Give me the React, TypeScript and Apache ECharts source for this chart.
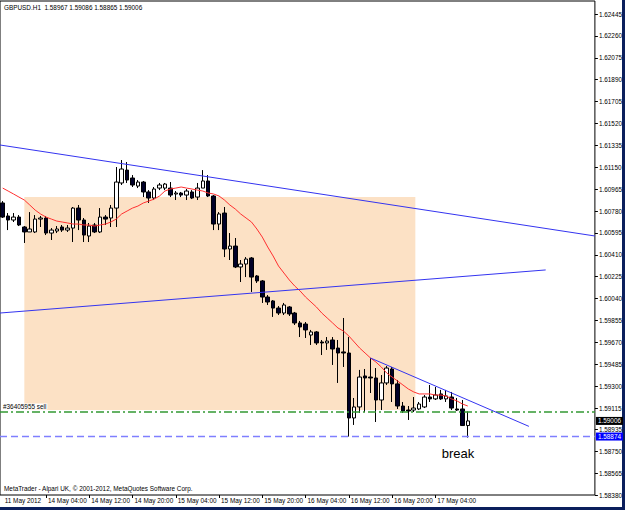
import React, { useEffect, useRef } from "react";
import * as echarts from "echarts";

const symbolName = "GBPUSD.H1";
const footerText = "MetaTrader - Alpari UK, \u00a9 2001-2012, MetaQuotes Software Corp.";

const hours = (d: string, from: number, to: number) =>
  Array.from({ length: to - from + 1 }, (_, k) => `${d} ${String(from + k).padStart(2, "0")}:00`);
const categories = [
  ...hours("11 May", 20, 23),
  ...hours("14 May", 0, 23),
  ...hours("15 May", 0, 23),
  ...hours("16 May", 0, 23),
  ...hours("17 May", 0, 23),
  ...hours("18 May", 0, 9),
];

const xTickIndex = [0, 8, 16, 24, 32, 40, 48, 56, 64, 72, 80];
const xTickLabels = [
  "11 May 2012", "14 May 04:00", "14 May 12:00", "14 May 20:00", "15 May 04:00", "15 May 12:00",
  "15 May 20:00", "16 May 04:00", "16 May 12:00", "16 May 20:00", "17 May 04:00",
];

const yTicks = [
  1.5838, 1.58565, 1.5875, 1.58935, 1.59115, 1.593, 1.59485, 1.5967, 1.59855, 1.6004, 1.60225,
  1.6041, 1.60595, 1.6078, 1.60965, 1.6115, 1.61335, 1.6152, 1.61705, 1.6189, 1.62075, 1.6226, 1.62445,
];

const open = [
  1.60848, 1.60738, 1.60704, 1.60729, 1.60645, 1.60603, 1.60603, 1.60712, 1.60721, 1.60594,
  1.60611, 1.60645, 1.60619, 1.60636, 1.60805, 1.60704, 1.60569, 1.60662, 1.60603, 1.60729,
  1.60721, 1.60805, 1.61017, 1.61126, 1.61059, 1.60991, 1.61025, 1.60941, 1.6089, 1.60974,
  1.60974, 1.60974, 1.60924, 1.60932, 1.60915, 1.60941, 1.60898, 1.60974, 1.61034, 1.60907,
  1.6067, 1.60763, 1.60459, 1.60484, 1.60307, 1.60332, 1.60383, 1.60231, 1.60189, 1.60053,
  1.6002, 1.5996, 1.59918, 1.59969, 1.59918, 1.59834, 1.59825, 1.59732, 1.59758, 1.59673,
  1.59665, 1.5969, 1.59622, 1.59589, 1.5958, 1.59031, 1.59124, 1.59386, 1.59377, 1.59369,
  1.59183, 1.59327, 1.59445, 1.59319, 1.59132, 1.59098, 1.59098, 1.59107, 1.59124, 1.59208,
  1.59192, 1.59234, 1.59192, 1.59208, 1.59107, 1.59107, 1.58967,
];
const close = [
  1.60729, 1.60704, 1.60729, 1.60662, 1.60603, 1.60628, 1.60712, 1.60721, 1.60594, 1.60619,
  1.60628, 1.60619, 1.60636, 1.60805, 1.60704, 1.60577, 1.60653, 1.60603, 1.60729, 1.60712,
  1.60805, 1.61025, 1.61135, 1.61042, 1.61, 1.61025, 1.60941, 1.6089, 1.60966, 1.61,
  1.61008, 1.60915, 1.60932, 1.60915, 1.60949, 1.6089, 1.60974, 1.61034, 1.60907, 1.6067,
  1.60755, 1.60459, 1.60484, 1.60307, 1.60332, 1.60374, 1.60222, 1.60189, 1.60053, 1.60011,
  1.5996, 1.59918, 1.59986, 1.5991, 1.59834, 1.598, 1.59775, 1.59758, 1.59665, 1.59665,
  1.59681, 1.59614, 1.5958, 1.5958, 1.59031, 1.59124, 1.59377, 1.59369, 1.59369, 1.59183,
  1.59327, 1.59453, 1.59319, 1.59132, 1.5909, 1.5909, 1.59115, 1.59149, 1.59208, 1.59192,
  1.59225, 1.59192, 1.59217, 1.59115, 1.59098, 1.58967, 1.59006,
];
const low = [
  1.60721, 1.60619, 1.60687, 1.60653, 1.6051, 1.60603, 1.60594, 1.60645, 1.60577, 1.60535,
  1.60594, 1.60603, 1.60603, 1.60518, 1.60619, 1.60518, 1.60518, 1.60594, 1.60594, 1.60662,
  1.60645, 1.60645, 1.61, 1.61017, 1.60983, 1.60974, 1.60898, 1.60848, 1.60873, 1.60957,
  1.60957, 1.60898, 1.60873, 1.60898, 1.60873, 1.60881, 1.60873, 1.60974, 1.60898, 1.60619,
  1.60619, 1.60391, 1.60366, 1.60298, 1.6018, 1.60222, 1.60096, 1.60172, 1.60003, 1.59986,
  1.59885, 1.59901, 1.59901, 1.59893, 1.59817, 1.59715, 1.59707, 1.59648, 1.59648, 1.59563,
  1.59606, 1.59479, 1.59327, 1.59462, 1.58874, 1.58972, 1.59073, 1.59081, 1.59242, 1.58997,
  1.59098, 1.5931, 1.59166, 1.59107, 1.59073, 1.59014, 1.59081, 1.59098, 1.59115, 1.59166,
  1.59183, 1.59183, 1.59166, 1.59098, 1.5909, 1.58963, 1.58865,
];
const high = [
  1.60864, 1.60763, 1.60763, 1.60746, 1.60653, 1.60771, 1.60746, 1.60738, 1.60738, 1.60636,
  1.60653, 1.60662, 1.60662, 1.60814, 1.60831, 1.60721, 1.60679, 1.60679, 1.60805, 1.60746,
  1.60831, 1.61152, 1.61211, 1.61194, 1.61084, 1.61042, 1.61034, 1.60957, 1.60983, 1.61017,
  1.61017, 1.61025, 1.60949, 1.60941, 1.60966, 1.60957, 1.61017, 1.61126, 1.61084, 1.60915,
  1.60771, 1.60814, 1.60594, 1.60552, 1.60366, 1.60391, 1.60391, 1.60239, 1.60197, 1.6007,
  1.60028, 1.59977, 1.60003, 1.59977, 1.59927, 1.59851, 1.59842, 1.59775, 1.59766, 1.5969,
  1.59715, 1.59715, 1.5969, 1.59876, 1.59715, 1.592, 1.59437, 1.59445, 1.59538, 1.59453,
  1.59394, 1.5947, 1.59462, 1.59352, 1.59166, 1.59132, 1.59208, 1.59166, 1.59225, 1.5931,
  1.59293, 1.59268, 1.59268, 1.59251, 1.592, 1.59183, 1.59086,
];
const movingAverage = [
  1.60974, 1.60949, 1.60924, 1.60898, 1.60873, 1.60831, 1.60788, 1.60755, 1.60729, 1.60712,
  1.60695, 1.60687, 1.60679, 1.6067, 1.6067, 1.60662, 1.60662, 1.60653, 1.60662, 1.6067,
  1.60687, 1.60712, 1.60755, 1.6078, 1.60805, 1.60822, 1.60848, 1.60864, 1.60881, 1.60907,
  1.60949, 1.60966, 1.60974, 1.60983, 1.60974, 1.60966, 1.60957, 1.60949, 1.60932, 1.60924,
  1.60907, 1.60873, 1.60831, 1.60797, 1.60755, 1.60721, 1.60687, 1.60628, 1.6056, 1.60476,
  1.604, 1.60315, 1.60256, 1.60197, 1.60146, 1.60104, 1.60053, 1.60011, 1.59969, 1.59918,
  1.59876, 1.59834, 1.59791, 1.59766, 1.59724, 1.59673, 1.59622, 1.5958, 1.59538, 1.59504,
  1.59462, 1.59411, 1.59377, 1.59344, 1.5931, 1.59276, 1.59251, 1.59234, 1.59234, 1.59234,
  1.59225, 1.59225, 1.59217, 1.59192, 1.59175, 1.59149, 1.59132,
];

// drawn objects: [bar position, price]
const trendUpper = [[-0.5, 1.61338], [109.5, 1.60569]];
const trendLower = [[-0.5, 1.59918], [100.4, 1.60282]];
const trendShort = [[68, 1.59538], [97.3, 1.5896]];
const zoneCorners = [[4, 1.60898], [76.3, 1.59098]];
const sellPrice = 1.59086;
const sellTicket = "#36405955 sell";
const stopPrice = 1.58874;
const breakNote = { text: "break", at: [84.2, 1.58731] };

const FONT = "'Liberation Sans', Arial, sans-serif";

export default function App() {
  const ref = useRef<HTMLDivElement>(null);
  useEffect(() => {
    document.body.style.margin = "0";
    const chart = echarts.init(ref.current!, null, { renderer: "svg" });
    const n = open.length;
    const candles = open.map((o, i) => [o, close[i], low[i], high[i]]);
    const lastBid = close[n - 1];
    const header = `${symbolName}  ${open[n - 1].toFixed(5)} ${high[n - 1].toFixed(5)} ${low[n - 1].toFixed(5)} ${close[n - 1].toFixed(5)}`;
    const small = { fontFamily: FONT, fontSize: 6.4, color: "#000" };
    const priceBox = (txt: string, bg: string) => ({
      show: true,
      position: "end",
      formatter: txt,
      fontFamily: FONT,
      fontSize: 6.4,
      color: "#fff",
      backgroundColor: bg,
      padding: [1, 2],
      distance: 1,
    });

    chart.setOption({
      animation: false,
      backgroundColor: "#ffffff",
      grid: { left: 0, right: 29, top: 1, bottom: 15, show: true, borderColor: "#000", borderWidth: 1, backgroundColor: "#fff" },
      xAxis: [
        {
          type: "category",
          data: categories,
          axisLine: { show: false, onZero: false },
          splitLine: { show: false },
          axisTick: {
            show: true,
            alignWithLabel: true,
            length: 3,
            interval: (i: number) => i > 0 && xTickIndex.includes(i),
            lineStyle: { color: "#000" },
          },
          axisLabel: {
            ...small,
            interval: (i: number) => xTickIndex.includes(i),
            formatter: (_v: string, i: number) => {
              const k = xTickIndex.indexOf(i);
              return k >= 0 ? xTickLabels[k] : "";
            },
            align: "left",
            margin: 2,
            padding: [0, 0, 0, 2],
          },
        },
        { type: "value", min: -0.5, max: 109.5, show: false, axisLine: { onZero: false } },
      ],
      yAxis: {
        type: "value",
        position: "right",
        min: 1.5838,
        max: 1.62555,
        axisLine: { show: false, onZero: false },
        splitLine: { show: false },
        axisTick: { show: true, customValues: yTicks, length: 3, inside: false, lineStyle: { color: "#000" } },
        axisLabel: {
          ...small,
          customValues: yTicks,
          formatter: (v: number) => v.toFixed(5),
          margin: 4,
        },
      },
      graphic: [
        { type: "text", left: 4, top: 4, style: { text: header, fill: "#000", font: `6.4px ${FONT}` } },
        { type: "text", left: 4, top: 485, style: { text: footerText, fill: "#000", font: `6.4px ${FONT}` } },
        { type: "rect", shape: { x: 622, y: 0, width: 3, height: 510 }, style: { fill: "#0b1f5c" } },
        { type: "rect", shape: { x: 0, y: 507, width: 625, height: 3 }, style: { fill: "#0b1f5c" } },
      ],
      series: [
        {
          name: "zone",
          type: "line",
          xAxisIndex: 1,
          data: [],
          z: 1,
          silent: true,
          markArea: {
            silent: true,
            itemStyle: { color: "#fce1c5" },
            data: [[{ coord: zoneCorners[0] }, { coord: zoneCorners[1] }]],
          },
        },
        {
          name: symbolName,
          type: "candlestick",
          data: candles,
          barWidth: 4,
          z: 3,
          itemStyle: { color: "#ffffff", color0: "#000028", borderColor: "#000", borderColor0: "#000", borderWidth: 1 },
        },
        {
          name: "MA",
          type: "line",
          data: movingAverage,
          symbol: "none",
          z: 4,
          lineStyle: { color: "#ff3030", width: 1 },
        },
        {
          name: "trendUpper",
          type: "line",
          xAxisIndex: 1,
          data: trendUpper,
          symbol: "none",
          z: 5,
          lineStyle: { color: "#3434f0", width: 1 },
          markLine: {
            silent: true,
            precision: 5,
            symbol: ["none", "none"],
            data: [
              {
                yAxis: sellPrice,
                lineStyle: { color: "#339933", width: 1.5, type: [8, 3, 2, 3] },
                label: {
                  show: true,
                  position: "insideStartTop",
                  formatter: sellTicket,
                  ...small,
                  backgroundColor: "#ffffff",
                  padding: [0, 1],
                  distance: 2,
                },
              },
              {
                yAxis: stopPrice,
                lineStyle: { color: "#7f7fff", width: 1.3, type: [7, 4] },
                label: priceBox(stopPrice.toFixed(5), "#0000ff"),
              },
              {
                yAxis: lastBid,
                lineStyle: { color: "rgba(255,255,255,0)", width: 1 },
                label: priceBox(lastBid.toFixed(5), "#000000"),
              },
            ],
          },
        },
        {
          name: "trendLower",
          type: "line",
          xAxisIndex: 1,
          data: trendLower,
          symbol: "none",
          z: 5,
          lineStyle: { color: "#3434f0", width: 1 },
        },
        {
          name: "trendShort",
          type: "line",
          xAxisIndex: 1,
          data: trendShort,
          symbol: "none",
          z: 5,
          lineStyle: { color: "#3434f0", width: 1 },
          markPoint: {
            silent: true,
            symbol: "circle",
            symbolSize: 0,
            data: [{ coord: breakNote.at }],
            label: { show: true, position: "inside", formatter: breakNote.text, fontFamily: FONT, fontSize: 13, color: "#000" },
          },
        },
      ],
    });
    return () => chart.dispose();
  }, []);
  return <div ref={ref} style={{ width: 625, height: 510 }} />;
}
